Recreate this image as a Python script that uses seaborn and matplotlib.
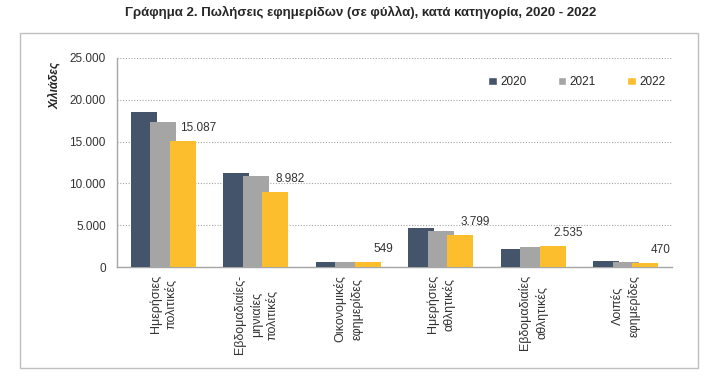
import matplotlib
matplotlib.use("Agg")
import matplotlib.pyplot as plt
from matplotlib.patches import Rectangle
from matplotlib.ticker import FuncFormatter, MultipleLocator
import pandas as pd
import seaborn as sns

categories = [
    "Ημερήσιες\nπολιτικές",
    "Εβδομαδιαίες-\nμηνιαίες\nπολιτικές",
    "Οικονομικές\nεφημερίδες",
    "Ημερήσιες\nαθλητικές",
    "Εβδομαδιαίες\nαθλητικές",
    "Λοιπές\nεφημερίδες",
]
years = ["2020", "2021", "2022"]
sales_2020 = [18500, 11200, 650, 4700, 2100, 680]
sales_2021 = [17300, 10900, 580, 4350, 2350, 650]
sales_2022 = [15087, 8982, 549, 3799, 2535, 470]
colors = ["#44546A", "#A5A5A5", "#FCBE2C"]

df = pd.DataFrame({
    "category": categories * 3,
    "year": [y for y in years for _ in categories],
    "value": sales_2020 + sales_2021 + sales_2022,
})

sns.set_style("white")
plt.rcParams["font.family"] = ["Liberation Sans", "DejaVu Sans"]

fig = plt.figure(figsize=(7.21, 3.89), dpi=100)
ax = fig.add_axes([117 / 721, 1 - 267 / 389, 555 / 721, 209 / 389])

sns.barplot(data=df, x="category", y="value", hue="year", palette=colors,
            width=0.63, dodge=True, saturation=1, ax=ax, zorder=3)

# Excel-style overlapping bars: widen each bar around its centre
bar_w = 0.28
for container in ax.containers:
    for p in container:
        cx = p.get_x() + p.get_width() / 2
        p.set_width(bar_w)
        p.set_x(cx - bar_w / 2)
        p.set_edgecolor("none")

# value labels for 2022 only
for p, v in zip(ax.containers[2], sales_2022):
    ax.annotate(f"{v:,}".replace(",", "."),
                xy=(p.get_x() + p.get_width() / 2, p.get_height()),
                xytext=(11, 5), textcoords="offset points",
                ha="center", va="bottom", fontsize=8.5, color="#333333")

ax.set_ylim(0, 25000)
ax.set_xlim(-0.5, len(categories) - 0.5)
ax.yaxis.set_major_locator(MultipleLocator(5000))
ax.yaxis.set_major_formatter(FuncFormatter(lambda x, _: f"{x:,.0f}".replace(",", ".")))
ax.grid(axis="y", linestyle=(0, (1, 1.5)), color="#a6a6a6", linewidth=0.8, zorder=0)
ax.set_axisbelow(True)

for side in ["top", "right"]:
    ax.spines[side].set_visible(False)
for side in ["left", "bottom"]:
    ax.spines[side].set_color("#a6a6a6")
    ax.spines[side].set_linewidth(1)

ax.tick_params(axis="y", length=4, color="#a6a6a6", labelsize=8.5,
               labelcolor="#333333", pad=4)
ax.tick_params(axis="x", length=0, labelsize=9, labelcolor="#333333",
               rotation=90, pad=6)
for lbl in ax.get_xticklabels():
    lbl.set_ha("center")
    lbl.set_va("top")
    lbl.set_multialignment("center")
    lbl.set_linespacing(1.4)

ax.set_xlabel("")
ax.set_ylabel("")
fig.text(55 / 721, 1 - 85 / 389, "Χιλιάδες", rotation=90, ha="center",
         va="center", fontsize=8.5, fontweight="bold", fontstyle="italic")

handles, labels = ax.get_legend_handles_labels()
ax.legend(handles, labels, ncol=3, frameon=False, fontsize=8.5,
          loc="center right", bbox_to_anchor=(676 / 721, 1 - 82 / 389),
          bbox_transform=fig.transFigure, handlelength=0.75, handleheight=0.75,
          handletextpad=0.3, columnspacing=2.6)

fig.suptitle("Γράφημα 2. Πωλήσεις εφημερίδων (σε φύλλα), κατά κατηγορία, 2020 - 2022",
             x=0.5, y=1 - 12 / 389, va="center", fontsize=9.5, fontweight="bold")

fig.add_artist(Rectangle((20 / 721, 1 - 368 / 389), 678 / 721, 335 / 389,
                         transform=fig.transFigure, fill=False,
                         edgecolor="#bfbfbf", linewidth=1))

fig.savefig("out.png", dpi=100, facecolor="white")
